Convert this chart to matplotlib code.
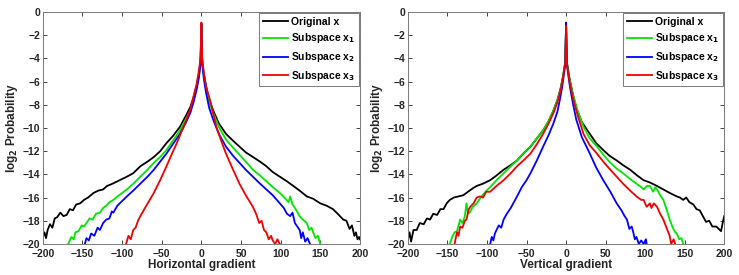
import numpy as np
import matplotlib
matplotlib.use('Agg')
import matplotlib.pyplot as plt

plt.rcParams['font.family'] = ['Liberation Sans', 'DejaVu Sans']
plt.rcParams['font.weight'] = 'bold'
plt.rcParams['mathtext.default'] = 'bf'

# Curves as (gradient, log2 probability) pairs
# Horizontal gradient panel
orig_h = [(-200, -19.4), (-198, -19.0), (-196, -19.5), (-194, -18.8), (-191, -18.3), (-188, -18.6),
          (-185, -17.8), (-182, -17.7), (-178, -17.3), (-174, -17.6), (-170, -17.5), (-166, -17.0),
          (-162, -17.1), (-158, -16.6), (-153, -16.5), (-148, -16.2), (-143, -16.0), (-136, -15.6),
          (-130, -15.4), (-124, -15.3), (-119, -15.0), (-112, -14.8), (-106, -14.6), (-100, -14.4),
          (-94, -14.2), (-86, -13.9), (-77, -13.3), (-68, -12.9), (-60, -12.5), (-52, -12.0),
          (-44, -11.3), (-36, -10.7), (-27, -9.9), (-20, -9.0), (-14, -8.2), (-10, -7.4), (-6, -6.4),
          (-3, -5.3), (-1, -4.2), (0, -1.0), (1, -4.2), (3, -5.3), (6, -6.4), (10, -7.6), (15, -8.5),
          (22, -9.6), (31, -10.5), (40, -11.1), (48, -11.6), (56, -12.1), (65, -12.5), (74, -12.9),
          (82, -13.3), (90, -13.8), (99, -14.2), (108, -14.6), (116, -15.0), (124, -15.4), (133, -15.9),
          (141, -16.1), (150, -16.5), (158, -16.7), (166, -17.0), (172, -17.4), (179, -17.9),
          (183, -18.0), (187, -18.7), (190, -18.4), (193, -19.3), (195, -19.0), (197, -19.6),
          (199, -19.4), (200, -19.6)]
sub1_h = [(-168, -20.0), (-164, -19.4), (-161, -19.6), (-159, -19.0), (-155, -18.9), (-151, -18.4),
          (-148, -18.5), (-145, -18.2), (-141, -17.8), (-137, -17.9), (-133, -17.4), (-128, -17.3),
          (-124, -16.9), (-120, -16.7), (-116, -16.4), (-111, -16.2), (-106, -15.9), (-100, -15.6),
          (-94, -15.3), (-86, -14.8), (-77, -14.2), (-68, -13.6), (-60, -13.0), (-52, -12.5),
          (-44, -11.9), (-36, -11.1), (-27, -10.2), (-20, -9.3), (-14, -8.5), (-10, -7.6), (-6, -6.5),
          (-3, -5.4), (-1, -4.3), (0, -1.0), (1, -4.3), (3, -5.5), (6, -6.6), (10, -7.8), (15, -8.7),
          (22, -9.9), (31, -11.0), (40, -11.7), (48, -12.3), (56, -12.9), (65, -13.6), (74, -14.1),
          (82, -14.6), (90, -15.1), (99, -15.6), (106, -16.1), (110, -16.4), (112, -15.9), (115, -16.6),
          (119, -17.0), (124, -17.6), (128, -17.9), (133, -18.2), (136, -18.8), (139, -18.6),
          (141, -19.0), (144, -19.5), (147, -19.3), (150, -20.0)]
sub2_h = [(-147, -20.0), (-145, -19.5), (-142, -19.7), (-139, -19.1), (-135, -19.3), (-131, -18.6),
          (-128, -18.8), (-124, -18.2), (-120, -17.9), (-116, -17.8), (-113, -17.2), (-111, -17.3),
          (-106, -16.7), (-100, -16.3), (-94, -15.9), (-86, -15.4), (-77, -14.8), (-68, -14.2),
          (-60, -13.6), (-52, -12.9), (-44, -12.2), (-36, -11.4), (-27, -10.5), (-20, -9.6),
          (-14, -8.7), (-10, -7.8), (-6, -6.7), (-3, -5.6), (-1, -4.4), (0, -1.0), (1, -4.4), (3, -5.7),
          (6, -7.0), (10, -8.3), (15, -9.3), (22, -10.5), (31, -11.6), (40, -12.4), (48, -13.0),
          (56, -13.6), (65, -14.2), (74, -14.8), (82, -15.3), (90, -15.8), (99, -16.5), (104, -16.9),
          (108, -17.4), (112, -17.6), (115, -17.3), (118, -18.2), (121, -18.5), (124, -18.8),
          (126, -19.5), (128, -19.0), (131, -19.8), (134, -19.5), (137, -20.0)]
sub3_h = [(-95, -20.0), (-92, -19.3), (-89, -19.6), (-86, -18.8), (-83, -18.6), (-80, -18.0),
          (-77, -17.6), (-72, -17.0), (-66, -16.3), (-60, -15.6), (-52, -14.5), (-44, -13.3),
          (-37, -12.2), (-31, -11.3), (-25, -10.3), (-19, -9.3), (-14, -8.4), (-10, -7.3), (-6, -6.2),
          (-3, -5.0), (-1, -3.9), (0, -0.9), (1, -3.9), (3, -5.2), (6, -6.5), (11, -7.6), (15, -8.8),
          (19, -9.9), (25, -11.1), (31, -12.2), (40, -13.6), (48, -14.8), (56, -15.8), (65, -16.8),
          (69, -17.4), (73, -18.2), (76, -18.0), (79, -18.8), (82, -19.0), (85, -19.6), (88, -19.3),
          (90, -19.7), (93, -20.0), (96, -19.6), (99, -20.0)]

# Vertical gradient panel
orig_v = [(-200, -19.6), (-198, -19.0), (-196, -19.8), (-193, -18.8), (-189, -18.8), (-185, -18.2),
          (-180, -18.3), (-176, -17.8), (-172, -17.9), (-168, -17.4), (-163, -17.5), (-159, -17.0),
          (-155, -17.0), (-151, -16.5), (-147, -16.2), (-142, -16.0), (-136, -15.9), (-130, -15.8),
          (-124, -15.5), (-118, -15.2), (-113, -15.0), (-105, -14.8), (-96, -14.5), (-88, -14.1),
          (-79, -13.6), (-70, -13.2), (-62, -12.8), (-54, -12.2), (-45, -11.6), (-37, -10.9),
          (-29, -10.2), (-22, -9.4), (-16, -8.5), (-11, -7.6), (-7, -6.6), (-4, -5.6), (-1, -4.3),
          (0, -1.1), (1, -4.3), (4, -5.6), (8, -6.9), (13, -8.3), (20, -9.5), (30, -10.5), (38, -11.3),
          (47, -11.9), (55, -12.4), (64, -12.8), (72, -13.2), (81, -13.6), (90, -14.1), (98, -14.5),
          (106, -14.7), (115, -15.0), (123, -15.3), (131, -15.6), (140, -15.9), (144, -16.0),
          (148, -16.2), (152, -16.0), (156, -16.4), (161, -16.6), (165, -17.0), (169, -17.1),
          (173, -17.6), (177, -18.1), (181, -18.0), (185, -18.5), (190, -18.5), (193, -18.7),
          (196, -18.9), (198, -18.2), (200, -17.6)]
sub1_v = [(-147, -20.0), (-144, -19.4), (-141, -19.0), (-138, -18.9), (-134, -17.9), (-131, -18.2),
          (-128, -17.6), (-126, -16.5), (-124, -17.4), (-122, -17.3), (-118, -16.8), (-113, -16.5),
          (-108, -16.0), (-102, -15.5), (-96, -15.1), (-88, -14.5), (-79, -13.9), (-70, -13.3),
          (-62, -12.8), (-54, -12.2), (-45, -11.6), (-37, -10.9), (-29, -10.2), (-22, -9.4),
          (-16, -8.5), (-11, -7.6), (-7, -6.7), (-4, -5.6), (-1, -4.3), (0, -1.1), (1, -4.3), (4, -5.7),
          (9, -7.2), (15, -8.6), (22, -9.9), (30, -10.9), (39, -11.6), (47, -12.3), (56, -13.0),
          (64, -13.5), (72, -13.9), (81, -14.4), (89, -14.8), (95, -15.1), (98, -15.3), (102, -15.0),
          (106, -15.0), (110, -15.5), (113, -15.1), (115, -15.3), (119, -15.8), (123, -16.2),
          (127, -17.0), (131, -17.9), (135, -18.6), (138, -19.0), (140, -19.1), (143, -19.6),
          (146, -19.5), (148, -20.0)]
sub2_v = [(-96, -20.0), (-94, -19.4), (-92, -19.7), (-90, -19.1), (-88, -18.8), (-85, -18.4),
          (-82, -18.6), (-79, -17.9), (-75, -17.4), (-70, -16.9), (-66, -16.4), (-62, -15.9),
          (-56, -15.1), (-50, -14.5), (-45, -13.9), (-37, -12.8), (-29, -11.6), (-22, -10.6),
          (-16, -9.6), (-11, -8.6), (-8, -7.6), (-5, -6.5), (-3, -5.5), (-1, -4.5), (0, -0.9), (1, -4.5),
          (3, -5.5), (5, -6.5), (9, -8.0), (13, -9.3), (20, -10.8), (30, -12.2), (38, -13.4),
          (47, -14.5), (56, -15.5), (64, -16.5), (70, -17.1), (74, -17.6), (77, -17.9), (80, -18.7),
          (83, -18.5), (85, -19.0), (87, -19.6), (89, -19.4), (92, -20.0), (95, -19.7), (98, -20.0),
          (101, -19.6), (102, -20.0)]
sub3_v = [(-141, -20.0), (-138, -19.0), (-136, -19.3), (-134, -18.5), (-131, -18.6), (-128, -18.0),
          (-126, -17.9), (-123, -17.0), (-120, -16.7), (-117, -16.5), (-113, -16.0), (-109, -15.9),
          (-105, -16.0), (-101, -15.5), (-96, -15.5), (-88, -15.0), (-79, -14.5), (-70, -13.9),
          (-62, -13.3), (-54, -12.8), (-45, -12.2), (-37, -11.4), (-29, -10.5), (-22, -9.6),
          (-16, -8.7), (-11, -7.8), (-7, -6.8), (-4, -5.7), (-1, -4.4), (0, -1.2), (1, -4.4), (4, -5.9),
          (9, -7.5), (15, -9.0), (22, -10.5), (30, -11.5), (39, -12.2), (47, -12.9), (56, -13.6),
          (64, -14.2), (72, -14.8), (81, -15.4), (89, -15.9), (95, -16.2), (98, -16.2), (102, -16.8),
          (106, -16.5), (108, -16.9), (111, -16.5), (115, -16.8), (119, -17.4), (123, -17.9),
          (127, -18.6), (131, -19.3), (133, -20.0), (136, -19.6), (138, -20.0)]

labels = ['Original x', 'Subspace x$_1$', 'Subspace x$_2$', 'Subspace x$_3$']
colors = ['#000000', '#00e600', '#0000ff', '#f00000']
x_ticks = [-200, -150, -100, -50, 0, 50, 100, 150, 200]
y_ticks = [0, -2, -4, -6, -8, -10, -12, -14, -16, -18, -20]

panels = [
    ([orig_h, sub1_h, sub2_h, sub3_h], 'Horizontal gradient', [0.058, 0.113, 0.429, 0.843]),
    ([orig_v, sub1_v, sub2_v, sub3_v], 'Vertical gradient', [0.552, 0.113, 0.428, 0.843]),
]

fig = plt.figure(figsize=(7.39, 2.75), dpi=100)

for curves, xlabel, rect in panels:
    ax = fig.add_axes(rect)
    for pts, lab, col in zip(curves, labels, colors):
        arr = np.array(pts)
        ax.plot(arr[:, 0], arr[:, 1], color=col, lw=1.3, label=lab)

    ax.set_xlim(-200, 200)
    ax.set_ylim(-20, 0)
    ax.set_xticks(x_ticks)
    ax.set_yticks(y_ticks)
    ax.tick_params(direction='in', length=3, width=0.6, labelsize=7.5, colors='#262626',
                   top=True, right=True, pad=2)
    ax.tick_params(axis='x', pad=4)
    for s in ax.spines.values():
        s.set_color('#7a7a7a')
        s.set_linewidth(0.7)
    ax.set_xlabel(xlabel, fontsize=8.5, fontweight='bold', color='#262626', labelpad=0)
    ax.set_ylabel('log$_2$ Probability', fontsize=8.5, fontweight='bold', color='#262626', labelpad=2)

    leg = ax.legend(loc='upper right', fontsize=7.5, fancybox=False, framealpha=1,
                    edgecolor='#7a7a7a', borderaxespad=0.1, handlelength=2.4,
                    handletextpad=0.3, labelspacing=0.45, borderpad=0.35)
    leg.get_frame().set_linewidth(0.7)

fig.savefig('out.png', dpi=100)
